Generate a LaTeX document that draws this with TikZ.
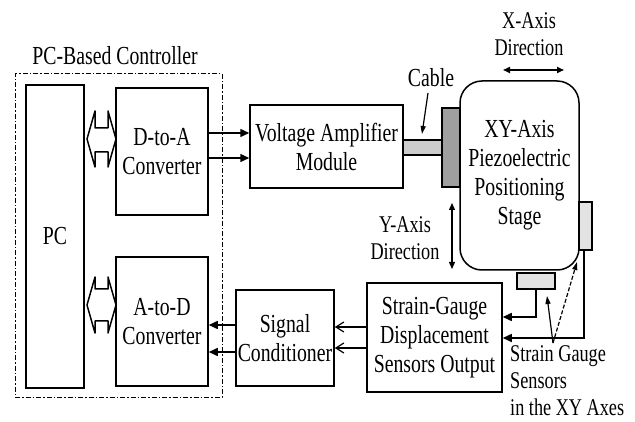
\documentclass[tikz,border=0pt]{standalone}
\usepackage{fontspec}
\setmainfont[FakeStretch=0.76]{Liberation Serif}
\usetikzlibrary{arrows.meta}
\tikzset{
  box/.style={draw, line width=1.5pt, inner sep=0pt, align=center, font=\fontsize{26}{29}\selectfont},
  lbl/.style={inner sep=0pt, align=center, font=\fontsize{26}{28}\selectfont},
  slbl/.style={inner sep=0pt, align=center, font=\fontsize{24}{27}\selectfont},
  ctrlbox/.style={draw, line width=1pt, dash pattern=on 5pt off 2pt on 1.5pt off 2pt},
  arr/.style={line width=1.5pt, -{Triangle[length=9pt,width=8pt]}},
  oarr/.style={line width=1.2pt, -{Straight Barb[length=8pt,width=10pt]}},
  darr/.style={line width=1.6pt, {Triangle[length=7pt,width=6pt]}-{Triangle[length=7pt,width=6pt]}},
  thinarr/.style={line width=1.2pt, -{Triangle[length=8pt,width=5pt]}},
  bus/.style={draw, line width=1.5pt, line join=round},
}
\begin{document}
\begin{tikzpicture}[x=1pt,y=-1pt]
\useasboundingbox (0,0) rectangle (635,422);
% controller
\node[lbl] (title) at (115,56) {PC-Based Controller};
\node[ctrlbox, minimum width=207pt, minimum height=323pt] (ctrl) at (118.5,235.5) {};
\node[box, line width=2pt, minimum width=58pt, minimum height=303pt] (pc) at (55,236.5) {PC};
\node[box, minimum width=92pt, minimum height=127pt] (dta) at (162,151.5) {D-to-A\\Converter};
\node[box, minimum width=92pt, minimum height=129pt] (atd) at (162,321.5) {A-to-D\\Converter};
% bus arrows
\path[bus] (87,139) -- (95,111) -- (95,128) -- (108,128) -- (108,111) -- (116,139)
  -- (108,167) -- (108,152) -- (95,152) -- (95,167) -- cycle;
\path[bus] (87,305) -- (95,277) -- (95,289) -- (108,289) -- (108,277) -- (116,305)
  -- (108,333) -- (108,321) -- (95,321) -- (95,333) -- cycle;
% amplifier
\node[box, minimum width=153pt, minimum height=83pt] (amp) at (326.5,146.5) {Voltage Amplifier\\Module};
\draw[arr] (dta.east |- 0,133) -- (amp.west |- 0,133);
\draw[arr] (dta.east |- 0,158) -- (amp.west |- 0,158);
% cable and stage
\node[draw, line width=1.2pt, fill=gray!40, minimum width=39pt, minimum height=15pt, inner sep=0pt] (cable) at (422.5,147.5) {};
\node[draw, line width=1.2pt, fill=gray!75, minimum width=18pt, minimum height=79pt, inner sep=0pt] (plate) at (451,147.5) {};
\node[box, rounded corners=22pt, minimum width=119pt, minimum height=189pt] (stage) at (519.5,175.5)
  {\fontsize{26}{34}\selectfont XY-Axis\\Piezoelectric\\Positioning\\Stage};
\node[draw, line width=1.5pt, fill=gray!22, minimum width=13pt, minimum height=48pt, inner sep=0pt] (sensR) at (585.5,226) {};
\node[draw, line width=1.5pt, fill=gray!22, minimum width=38pt, minimum height=16pt, inner sep=0pt] (sensB) at (536,281) {};
% labels
\node[lbl] (cablelbl) at (431,78) {Cable};
\coordinate (cabletop) at (428,93);
\coordinate (cabletip) at (422,134);
\draw[thinarr] (cabletop) -- (cabletip);
\node[slbl] (xlbl) at (529,34) {X-Axis\\Direction};
\coordinate (xa) at (503,70);
\coordinate (xb) at (564,70);
\draw[darr] (xa) -- (xb);
\node[slbl] (ylbl) at (405,238) {Y-Axis\\Direction};
\coordinate (ya) at (452,203);
\coordinate (yb) at (452,269);
\draw[darr, line width=1.2pt] (ya) -- (yb);
% strain gauge and signal conditioner
\node[box, minimum width=135pt, minimum height=109pt] (sg) at (434.5,337.5)
  {\fontsize{26}{27}\selectfont Strain-Gauge\\Displacement\\Sensors Output};
\node[box, minimum width=98pt, minimum height=96pt] (sig) at (285,338) {Signal\\Conditioner};
\draw[line width=1.5pt, -{Triangle[length=9pt,width=8pt]}] (sensB.south) -- (sensB.south |- 0,317) -- (sg.east |- 0,317);
\draw[line width=1.5pt, -{Triangle[length=9pt,width=8pt]}] (584,250) -- (584,338) -- (sg.east |- 0,338);
\draw[oarr] (sg.west |- 0,327) -- (sig.east |- 0,327);
\draw[oarr] (sg.west |- 0,348) -- (sig.east |- 0,348);
\draw[arr] (sig.west |- 0,325) -- (atd.east |- 0,325);
\draw[arr] (sig.west |- 0,352) -- (atd.east |- 0,352);
% sensor label
\node[slbl, align=left, anchor=north west] (senslbl) at (510,345) {Strain Gauge\\Sensors\\in the XY Axes};
\coordinate (sp) at (553,343);
\coordinate (spa) at (547,296);
\coordinate (spb) at (577,262);
\draw[thinarr] (sp) -- (spa);
\draw[thinarr, dash pattern=on 4pt off 2pt] (sp) -- (spb);
\end{tikzpicture}
\end{document}
